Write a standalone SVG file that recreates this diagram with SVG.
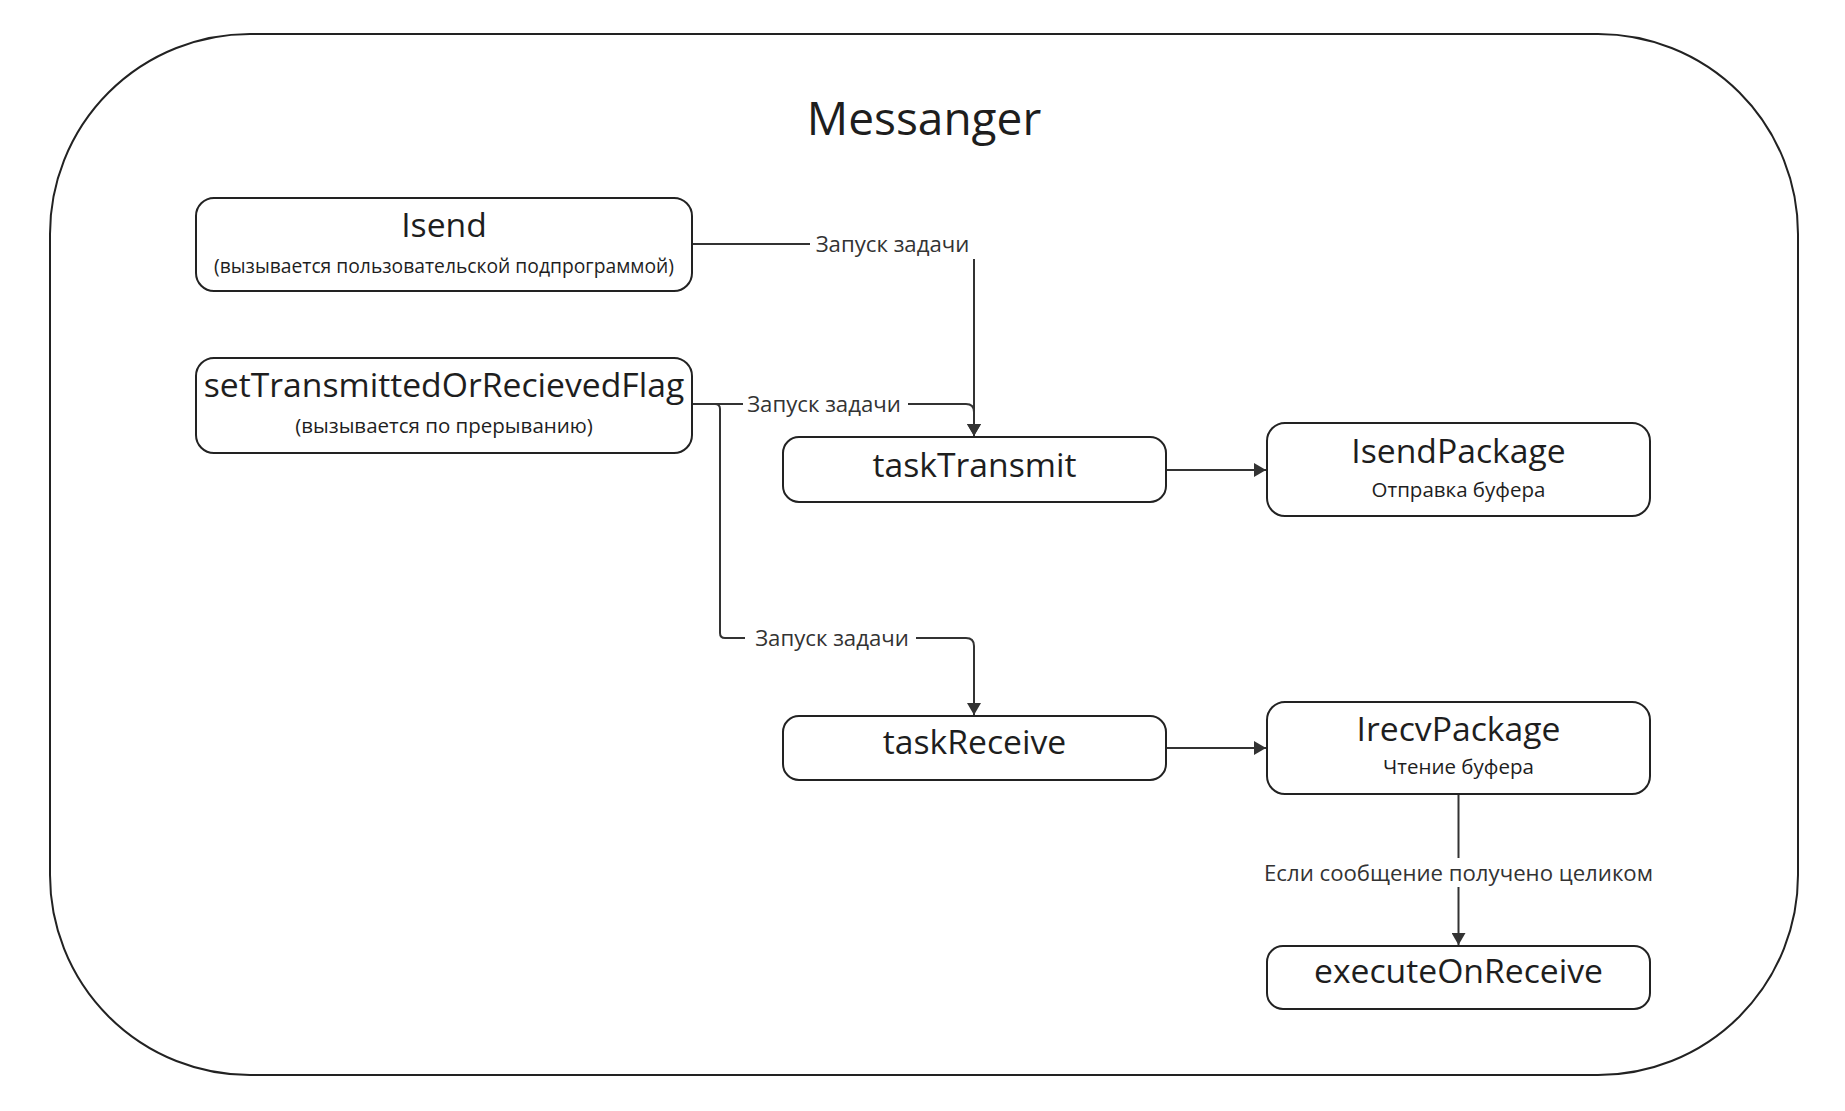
<svg xmlns="http://www.w3.org/2000/svg" width="1845" height="1111" viewBox="0 0 1845 1111">
<style>
.node{fill:#fff;stroke:#222;stroke-width:2}
.t{font-family:"Open Sans","Noto Sans","DejaVu Sans",sans-serif;fill:#1e1e1e;text-anchor:middle}
.title{font-size:33.7px}
.sub{font-size:20.5px}
.lbl{font-family:"Open Sans","Noto Sans","DejaVu Sans",sans-serif;fill:#333;font-size:22.2px;text-anchor:middle}
.edge{fill:none;stroke:#333;stroke-width:2}
.bg{fill:#fff}
</style>
<defs>
<marker id="arr" markerUnits="userSpaceOnUse" markerWidth="12" markerHeight="14" refX="12" refY="7" orient="auto">
<path d="M0,0 L12,7 L0,14 z" fill="#333"/>
</marker>
</defs>
<rect width="1845" height="1111" fill="#fff"/>
<g id="frame">
<rect x="50" y="34" width="1748" height="1041" rx="200" ry="200" fill="none" stroke="#222" stroke-width="2"/>
<text class="t" x="924" y="135" font-size="46">Messanger</text>
</g>
<g id="connectors">
<path class="edge" d="M692,244 H974 V436" marker-end="url(#arr)"/>
<path class="edge" d="M692,404 H966 Q974,404 974,412 V436" marker-end="url(#arr)"/>
<path class="edge" d="M692,404 H715 Q720,404 720,409 V633 Q720,638 725,638 H966 Q974,638 974,646 V715" marker-end="url(#arr)"/>
<path class="edge" d="M1166,470 H1266" marker-end="url(#arr)"/>
<path class="edge" d="M1166,748 H1266" marker-end="url(#arr)"/>
<path class="edge" d="M1458.5,794 V945" marker-end="url(#arr)"/>
<rect class="bg" x="810" y="229" width="167" height="30"/>
<text class="lbl" x="892.5" y="252">Запуск задачи</text>
<rect class="bg" x="743" y="390" width="165" height="28"/>
<text class="lbl" x="824" y="412">Запуск задачи</text>
<rect class="bg" x="745" y="624" width="171" height="28"/>
<text class="lbl" x="832" y="646">Запуск задачи</text>
<rect class="bg" x="1258" y="858" width="401" height="29"/>
<text class="lbl" x="1458.5" y="881">Если сообщение получено целиком</text>
</g>
<g id="isend">
<rect class="node" x="196" y="198" width="496" height="93" rx="18"/>
<text class="t title" x="444" y="237">Isend</text>
<text class="t" x="444" y="273" font-size="19.3">(вызывается пользовательской подпрограммой)</text>
</g>
<g id="setFlag">
<rect class="node" x="196" y="358" width="496" height="95" rx="18"/>
<text class="t title" x="444" y="397">setTransmittedOrRecievedFlag</text>
<text class="t sub" x="444" y="433">(вызывается по прерыванию)</text>
</g>
<g id="taskTransmit">
<rect class="node" x="783" y="437" width="383" height="65" rx="16"/>
<text class="t title" x="974.5" y="477">taskTransmit</text>
</g>
<g id="taskReceive">
<rect class="node" x="783" y="716" width="383" height="64" rx="16"/>
<text class="t title" x="974.5" y="754">taskReceive</text>
</g>
<g id="isendPackage">
<rect class="node" x="1267" y="423" width="383" height="93" rx="18"/>
<text class="t title" x="1458.5" y="463">IsendPackage</text>
<text class="t sub" x="1458.5" y="497">Отправка буфера</text>
</g>
<g id="irecvPackage">
<rect class="node" x="1267" y="702" width="383" height="92" rx="18"/>
<text class="t title" x="1458.5" y="741">IrecvPackage</text>
<text class="t sub" x="1458.5" y="774">Чтение буфера</text>
</g>
<g id="executeOnReceive">
<rect class="node" x="1267" y="946" width="383" height="63" rx="16"/>
<text class="t title" x="1458.5" y="983">executeOnReceive</text>
</g>
</svg>
